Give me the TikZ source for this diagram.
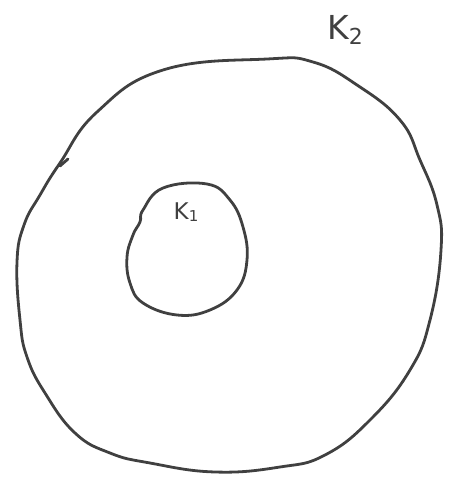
\documentclass[tikz,border=0pt]{standalone}
\usepackage{fontspec}
\setsansfont{DejaVu Sans}
\begin{document}
\begin{tikzpicture}[x=1pt,y=-1pt,
  pen/.style={draw=black!75, line width=2.8pt, line join=round, line cap=round},
  lbl/.style={text=black!75, inner sep=0pt}]
\useasboundingbox (0,0) rectangle (449,487);
% outer curve K2
\draw[pen] plot[smooth cycle, tension=0.75] coordinates {
 (17,262) (24,225) (40,195) (60,163) (97,112) (163,70) (267,59)
 (313,62) (357,85) (400,120) (420,160) (437,205) (441,250) (430,320)
 (410,370) (370,420) (325,455) (280,467) (215,472) (150,463) (110,453) (75,433)
 (45,393) (27,357) (20,320)};
% little tick on outer curve
\draw[pen] (60,166) -- (68,159);
% inner curve K1
\draw[pen] plot[smooth cycle, tension=0.7] coordinates {
 (207,184) (230,200) (243,227) (247,260) (237,290) (210,310) (177,315)
 (143,303) (130,283) (127,257) (133,235) (140,222) (143,210) (163,188)};
\node[lbl, font=\sffamily\fontsize{33}{33}\selectfont] (k2) at (345,30) {K\raisebox{-0.3ex}{\fontsize{22}{22}\selectfont 2}};
\node[lbl, font=\sffamily\fontsize{23}{23}\selectfont] (k1) at (186,212) {K\raisebox{-0.2ex}{\fontsize{15}{15}\selectfont 1}};
\end{tikzpicture}
\end{document}
